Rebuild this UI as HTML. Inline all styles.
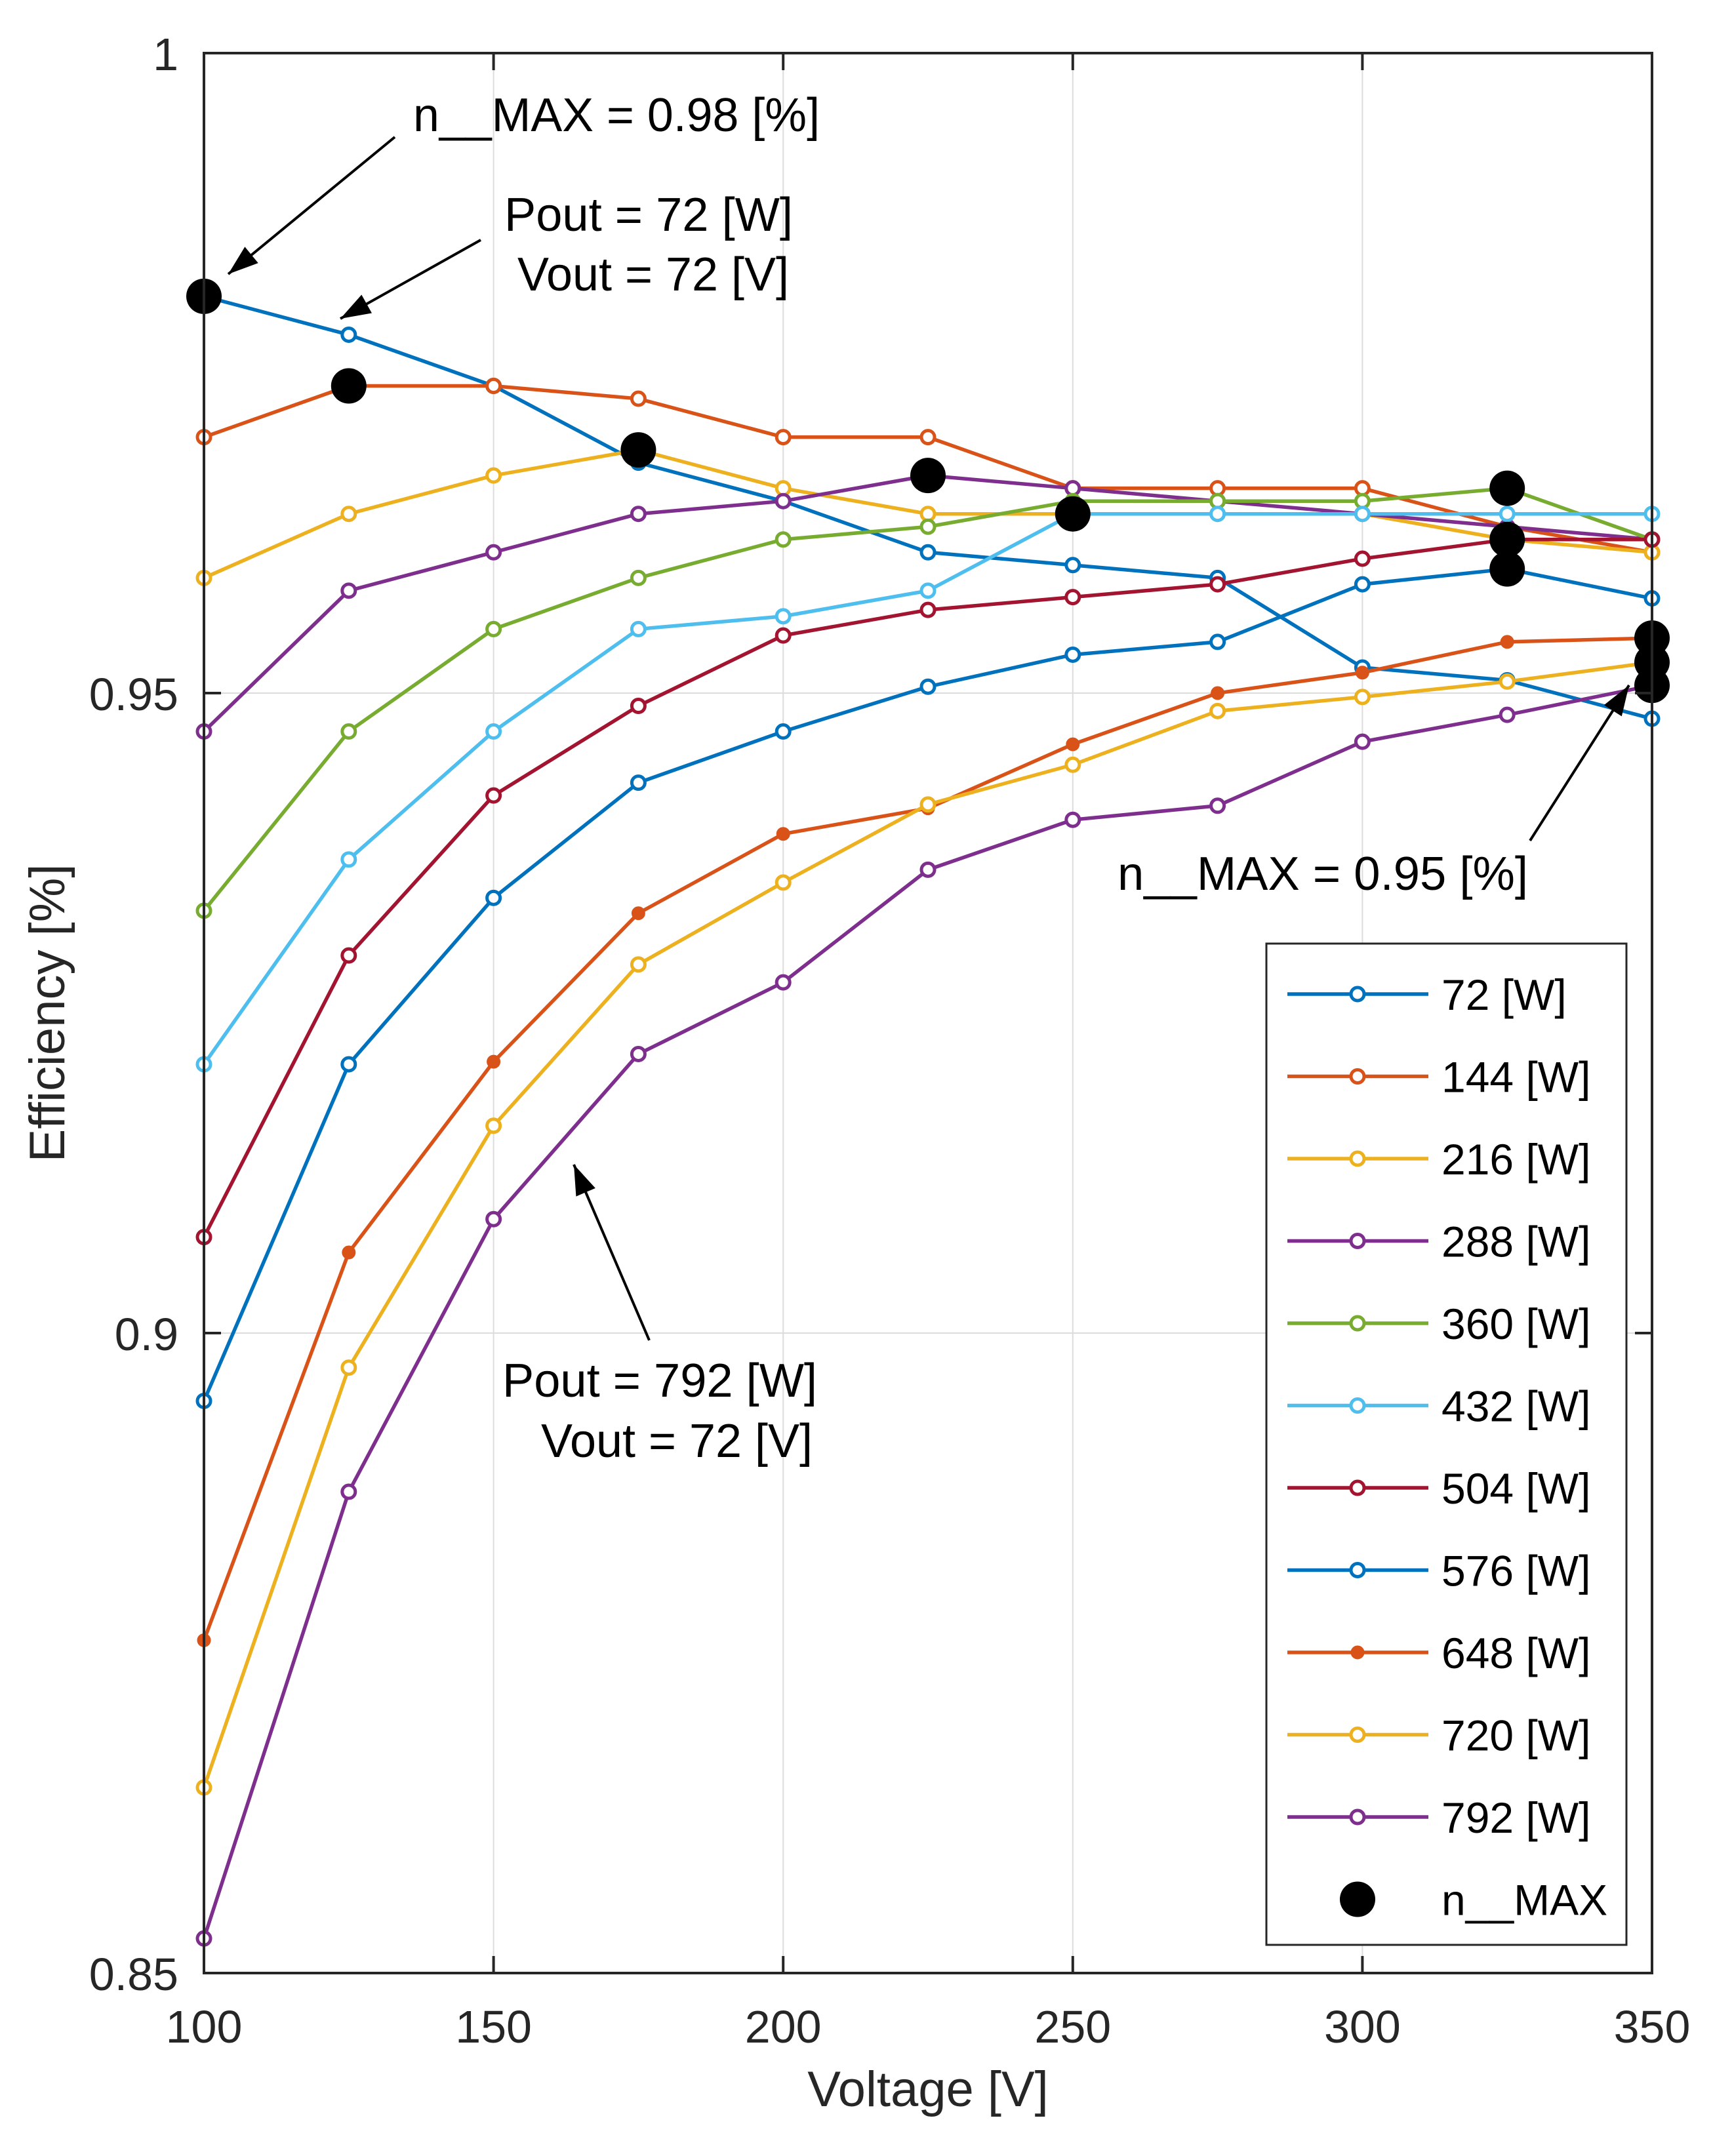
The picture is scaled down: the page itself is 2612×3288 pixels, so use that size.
<!DOCTYPE html>
<html><head><meta charset="utf-8"><style>
html,body{margin:0;padding:0;background:#fff;}
svg{display:block;font-family:"Liberation Sans",Arial,sans-serif;}
</style></head><body>
<svg id="chart" width="2612" height="3288" viewBox="0 0 2612 3288" xmlns="http://www.w3.org/2000/svg">
<rect width="2612" height="3288" fill="#fff"/>
<g id="grid"></g>
<g id="series"></g>
<g id="maxes"></g>
<rect x="311" y="81" width="2208" height="2928" fill="none" stroke="#262626" stroke-width="4"/>
<g id="ticks"></g>
<text x="1415" y="3212" font-size="76" text-anchor="middle" fill="#262626">Voltage [V]</text>
<text transform="translate(98,1545) rotate(-90)" font-size="76" text-anchor="middle" fill="#262626">Efficiency [%]</text>
<g font-size="72" fill="#000">
<text x="630" y="200" textLength="620" lengthAdjust="spacingAndGlyphs">n__MAX = 0.98 [%]</text>
<text x="769" y="352" textLength="440" lengthAdjust="spacingAndGlyphs">Pout = 72 [W]</text>
<text x="789" y="443" textLength="414" lengthAdjust="spacingAndGlyphs">Vout = 72 [V]</text>
<text x="1704" y="1357" textLength="626" lengthAdjust="spacingAndGlyphs">n__MAX = 0.95 [%]</text>
<text x="766" y="2130" textLength="480" lengthAdjust="spacingAndGlyphs">Pout = 792 [W]</text>
<text x="825" y="2222" textLength="414" lengthAdjust="spacingAndGlyphs">Vout = 72 [V]</text>
</g>
<g id="arrows"></g>
<g id="legend"></g>
</svg>
<script>
const voltages = [100,125,150,175,200,225,250,275,300,325,350];
const seriesNames = ["72 [W]","144 [W]","216 [W]","288 [W]","360 [W]","432 [W]","504 [W]","576 [W]","648 [W]","720 [W]","792 [W]"];
const s72  = [0.981,0.978,0.974,0.968,0.965,0.961,0.960,0.959,0.952,0.951,0.948];
const s144 = [0.970,0.974,0.974,0.973,0.970,0.970,0.966,0.966,0.966,0.963,0.961];
const s216 = [0.959,0.964,0.967,0.969,0.966,0.964,0.964,0.964,0.964,0.962,0.961];
const s288 = [0.947,0.958,0.961,0.964,0.965,0.967,0.966,0.965,0.964,0.963,0.962];
const s360 = [0.933,0.947,0.955,0.959,0.962,0.963,0.965,0.965,0.965,0.966,0.962];
const s432 = [0.921,0.937,0.947,0.955,0.956,0.958,0.964,0.964,0.964,0.964,0.964];
const s504 = [0.9075,0.9295,0.942,0.949,0.9545,0.9565,0.9575,0.9585,0.9605,0.962,0.962];
const s576 = [0.8947,0.921,0.934,0.943,0.947,0.9505,0.953,0.954,0.9585,0.9597,0.9574];
const s648 = [0.876,0.9063,0.9212,0.9328,0.939,0.941,0.946,0.950,0.9516,0.954,0.9543];
const s720 = [0.8645,0.8973,0.9162,0.9288,0.9352,0.9413,0.9444,0.9486,0.9497,0.9509,0.9524];
const s792 = [0.8527,0.8876,0.9089,0.9218,0.9274,0.9362,0.9401,0.9412,0.9462,0.9483,0.9506];
const maxV = [100,125,175,225,250,325,325,325,350,350,350];
const maxE = [0.981,0.974,0.969,0.967,0.964,0.966,0.962,0.9597,0.9543,0.9524,0.9506];
const xTicks = [100,150,200,250,300,350];
const yTicks = [0.85,0.9,0.95,1];
const yTickLabels = ["0.85","0.9","0.95","1"];

const allSeries = [s72,s144,s216,s288,s360,s432,s504,s576,s648,s720,s792];
const colors = ["#0072BD","#D95319","#EDB120","#7E2F8E","#77AC30","#4DBEEE","#A2142F","#0072BD","#D95319","#EDB120","#7E2F8E"];
const NS="http://www.w3.org/2000/svg";
const L=311,R=2519,T=81,B=3009;
function X(v){return L+(v-100)/(350-100)*(R-L);}
function Y(v){return B-(v-0.85)/(1-0.85)*(B-T);}
function mk(tag,attrs,parent){const e=document.createElementNS(NS,tag);for(const k in attrs)e.setAttribute(k,attrs[k]);parent.appendChild(e);return e;}

const grid=document.getElementById('grid'), ticks=document.getElementById('ticks');
xTicks.forEach((t,i)=>{
  if(i>0&&i<xTicks.length-1){const g=mk('line',{x1:X(t),x2:X(t),y1:T,y2:B,stroke:'#dcdcdc','stroke-width':2},grid);
  
  }
  mk('line',{x1:X(t),x2:X(t),y1:B,y2:B-26,stroke:'#262626','stroke-width':4},ticks);
  mk('line',{x1:X(t),x2:X(t),y1:T,y2:T+26,stroke:'#262626','stroke-width':4},ticks);
  const tx=mk('text',{x:X(t),y:3115,'font-size':70,'text-anchor':'middle',fill:'#262626'},ticks);
  tx.textContent=t;
  
  
});
yTicks.forEach((t,i)=>{
  if(i>0&&i<yTicks.length-1){const g=mk('line',{x1:L,x2:R,y1:Y(t),y2:Y(t),stroke:'#dcdcdc','stroke-width':2},grid);
  
  }
  mk('line',{x1:L,x2:L+26,y1:Y(t),y2:Y(t),stroke:'#262626','stroke-width':4},ticks);
  mk('line',{x1:R,x2:R-26,y1:Y(t),y2:Y(t),stroke:'#262626','stroke-width':4},ticks);
  const tx=mk('text',{x:272,y:Y(t)+26,'font-size':70,'text-anchor':'end',fill:'#262626'},ticks);
  tx.textContent=yTickLabels[i];
  
  
});

const sg=document.getElementById('series');
allSeries.forEach((s,k)=>{
  const g=mk('g',{},sg);
  
  
  const pts=s.map((v,i)=>X(voltages[i])+','+Y(v)).join(' ');
  mk('polyline',{points:pts,fill:'none',stroke:colors[k],'stroke-width':5.5},g);
  s.forEach((v,i)=>{
    const filled=k===8;
    const c=mk('circle',{cx:X(voltages[i]),cy:Y(v),r:filled?8:10,fill:filled?colors[k]:'#fff',stroke:colors[k],'stroke-width':5},g);
    
    
  });
});
const mg=document.getElementById('maxes');
maxV.forEach((v,i)=>{
  const c=mk('circle',{cx:X(v),cy:Y(maxE[i]),r:27,fill:'#000'},mg);
  
  
});

const ag=document.getElementById('arrows');
function arrow(x1,y1,x2,y2){
  mk('line',{x1:x1,y1:y1,x2:x2,y2:y2,stroke:'#000','stroke-width':4},ag);
  const a=Math.atan2(y2-y1,x2-x1),len=46,w=16;
  const bx=x2-len*Math.cos(a),by=y2-len*Math.sin(a);
  const px=-Math.sin(a)*w,py=Math.cos(a)*w;
  const p=mk('polygon',{points:`${x2},${y2} ${bx+px},${by+py} ${bx-px},${by-py}`,fill:'#000'},ag);
  
  
}
arrow(602,209,348,418);
arrow(733,366,519,486);
arrow(2333,1282,2484,1045);
arrow(990,2044,875,1776);

const lg=document.getElementById('legend');
const lb=mk('rect',{x:1931,y:1439,width:549,height:1527,fill:'#fff',stroke:'#262626','stroke-width':3},lg);


seriesNames.forEach((n,k)=>{
  const y=1516+k*125.5;
  const g=mk('g',{},lg);
  
  
  mk('line',{x1:1963,x2:2178,y1:y,y2:y,stroke:colors[k],'stroke-width':5.5},g);
  const filled=k===8;
  mk('circle',{cx:2070,cy:y,r:filled?8:10,fill:filled?colors[k]:'#fff',stroke:colors[k],'stroke-width':5},g);
  const t=mk('text',{x:2198,y:y+24,'font-size':66,fill:'#000'},g);
  t.textContent=n;
});
const yM=1516+11*125.5;
const gm=mk('g',{},lg);


mk('circle',{cx:2070,cy:yM,r:27,fill:'#000'},gm);
const tm=mk('text',{x:2198,y:yM+24,'font-size':66,fill:'#000'},gm);
tm.textContent='n__MAX';
</script>
</body></html>
